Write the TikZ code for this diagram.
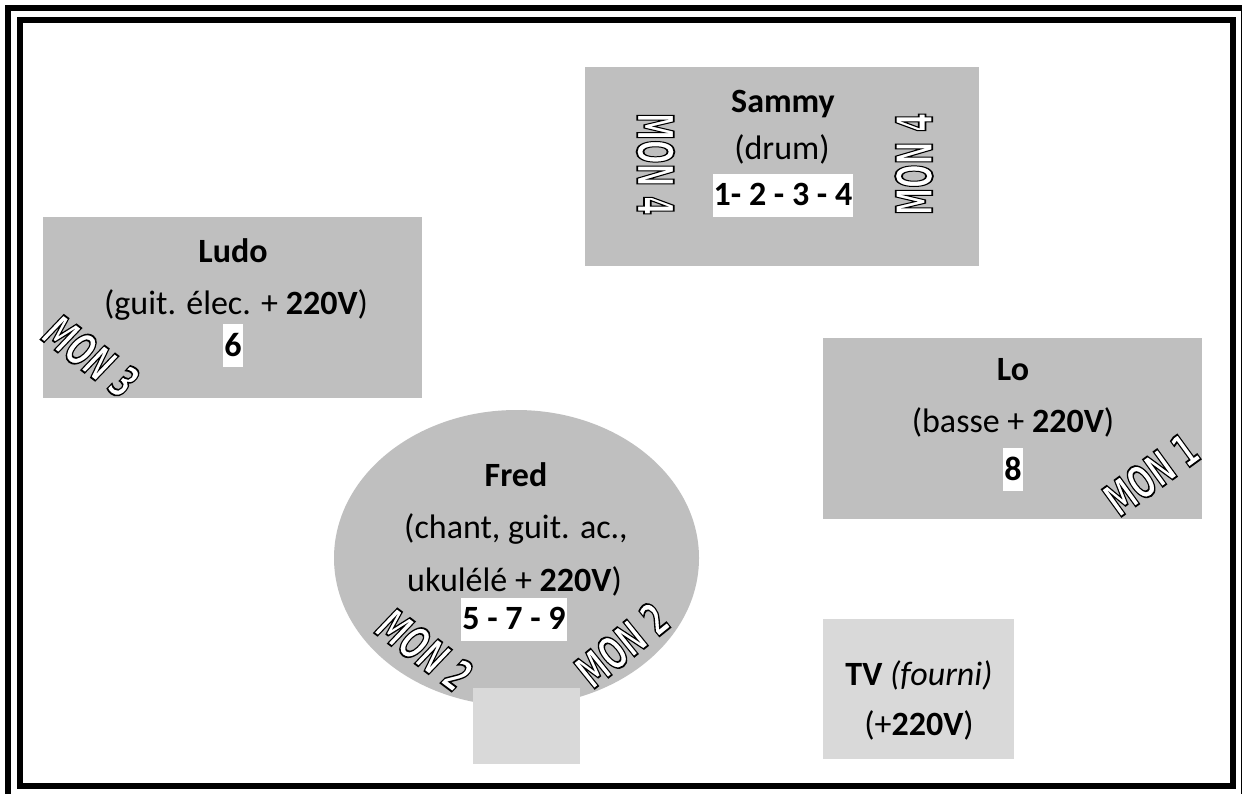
\documentclass[tikz,border=0pt]{standalone}
\usepackage{fontspec}
\setmainfont{Carlito}
\newfontfamily\monfont{DejaVu Sans}
\definecolor{zone}{HTML}{BFBFBF}
\definecolor{light}{HTML}{D9D9D9}
\newcommand{\outl}[1]{\special{pdf:code q 2 Tr 1.8 w 0 0 0 RG 1 1 1 rg}#1\special{pdf:code Q}}
\tikzset{
  x=1pt,y=-1pt,
  border/.style={draw=black,line width=6pt,fill=none,line join=miter},
  zonebox/.style={fill=zone,draw=none},
  lightbox/.style={fill=light,draw=none},
  label/.style={font=\fontsize{34}{40}\selectfont,inner sep=0pt,anchor=base,text=black},
  num/.style={fill=white,inner ysep=0pt,inner xsep=1pt,font=\fontsize{34}{40}\selectfont\bfseries,anchor=center,text height=32pt,text depth=11pt},
  mon/.style={inner sep=0pt,anchor=center,xscale=.55,font=\fontsize{50}{50}\selectfont\monfont\bfseries},
  monup/.style={inner sep=0pt,anchor=center,xscale=.6,font=\fontsize{46}{46}\selectfont\monfont\bfseries},
  monit/.style={inner sep=0pt,anchor=center,xscale=.6,font=\fontsize{46}{46}\selectfont\monfont\bfseries\itshape},
}
\begin{document}
\begin{tikzpicture}
\useasboundingbox (0,0) rectangle (1242,794);
\clip (0,0) rectangle (1242,794);
\fill[white] (0,0) rectangle (1242,794);
\draw[border] (8,8) rectangle (1244,798);
\draw[border] (20,20) rectangle (1233,786);
\fill[zonebox] (585,67) rectangle (979,266);
\fill[zonebox] (43,217) rectangle (422,398);
\fill[zonebox] (823,338) rectangle (1202,519);
\fill[zonebox] (516.5,558) ellipse [x radius=182.5,y radius=148];
\fill[lightbox] (473,688) rectangle (580,764);
\fill[lightbox] (823,619) rectangle (1014,759);
% Sammy
\node[label] (sammyname) at (783,113) {\textbf{Sammy}};
\node[label] (sammyrole) at (782,159.5) {(drum)};
\node[num] (sammynum) at (783,195.5) {1- 2 - 3 - 4};
\node[rotate=-90,mon] (monfourl) at (655.5,164) {\outl{MON 4}};
\node[rotate=90,mon] (monfourr) at (914,164) {\outl{MON 4}};
% Ludo
\node[label] (ludoname) at (233,263) {\textbf{Ludo}};
\node[label] (ludorole) at (236,315) {(guit. élec. + \textbf{220V})};
\node[num] (ludonum) at (233,345.5) {6};
\node[rotate=-37,monit] (monthree) at (91,356.5) {\outl{MON 3}};
% Lo
\node[label] (loname) at (1013,380) {\textbf{Lo}};
\node[label] (lorole) at (1013,432) {(basse + \textbf{220V})};
\node[num] (lonum) at (1013,469.5) {8};
\node[rotate=36,monup] (monone) at (1151,474.5) {\outl{MON 1}};
% Fred
\node[label] (fredname) at (516,486) {\textbf{Fred}};
\node[label] (fredrole) at (516,538) {(chant, guit. ac.,};
\node[label] (fredrolb) at (514.5,591) {ukulélé + \textbf{220V})};
\node[num] (frednum) at (514,619) {5 - 7 - 9};
\node[rotate=-37,monit] (montwol) at (424.5,650) {\outl{MON 2}};
\node[rotate=39,monup] (montwor) at (622,645) {\outl{MON 2}};
% TV
\node[label] (tvname) at (919,685) {\textbf{TV} \textit{(fourni)}};
\node[label] (tvrole) at (919,735) {(+\textbf{220V})};
\end{tikzpicture}
\end{document}
